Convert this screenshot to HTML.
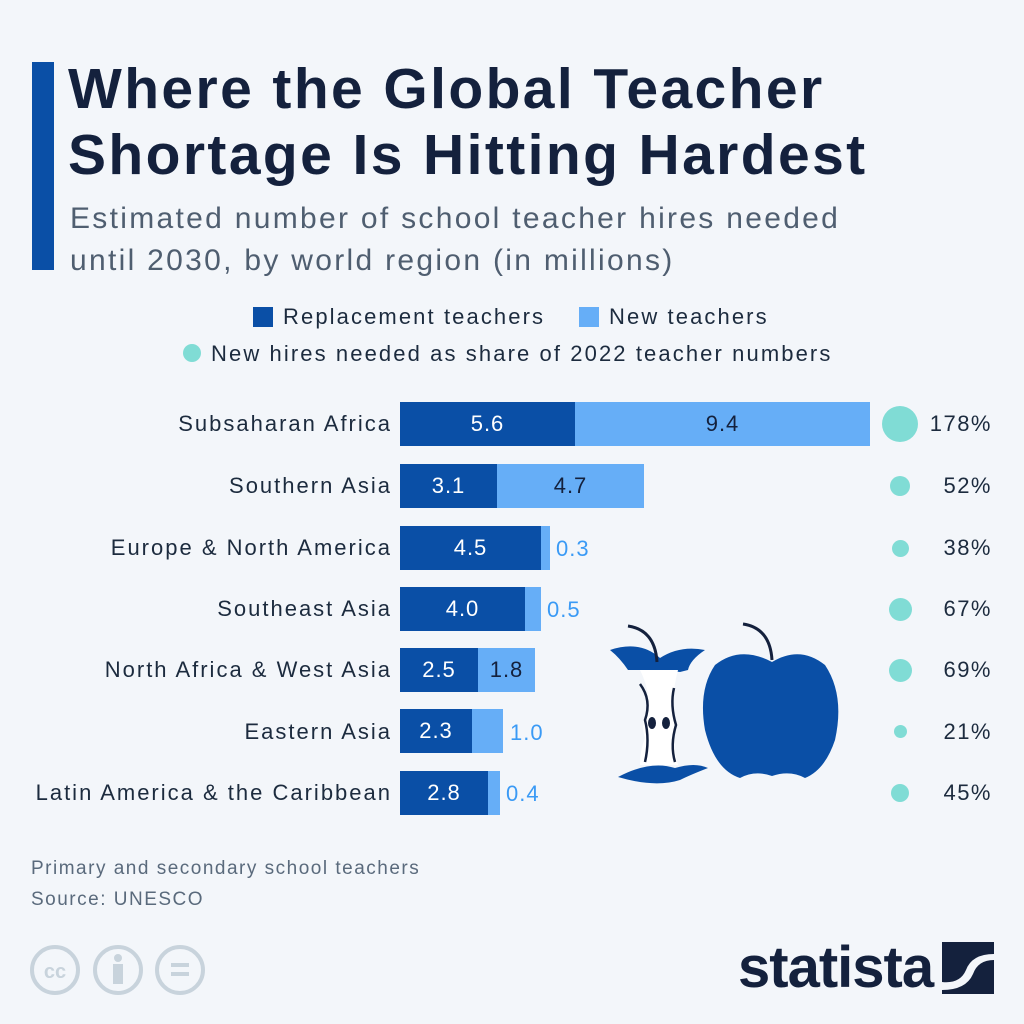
<!DOCTYPE html>
<html><head><meta charset="utf-8"><style>
body{margin:0;width:1024px;height:1024px;background:#f3f6fa;font-family:"Liberation Sans",sans-serif;position:relative;overflow:hidden;color:#1c2b3e}
.a{position:absolute}
.t{left:68px;top:56px;font-size:57px;font-weight:bold;color:#14213d;line-height:66px;letter-spacing:2.4px}
.s{left:70px;top:198px;font-size:30px;color:#4f5e70;line-height:42px;letter-spacing:2.3px}
.lab{right:632px;font-size:22px;white-space:nowrap;line-height:24px;letter-spacing:2px}
.bar{height:44px}
.v{font-size:22px;color:#fff;text-align:center;line-height:44px;letter-spacing:1px}
.pct{right:32px;font-size:22px;line-height:24px;letter-spacing:1.5px}
.c{background:#80dcd5;border-radius:50%}
.lg{font-size:22px;letter-spacing:2.1px}
.nv{font-size:22px;color:#3a9af5;letter-spacing:1px}
</style></head><body>
<div class="a" style="left:32px;top:62px;width:22px;height:208px;background:#0a4fa6"></div>
<div class="a t">Where the Global Teacher<br>Shortage Is Hitting Hardest</div>
<div class="a s">Estimated number of school teacher hires needed<br>until 2030, by world region (in millions)</div>
<div class="a" style="left:253px;top:307px;width:20px;height:20px;background:#0a4fa6"></div>
<div class="a lg" style="left:283px;top:304px">Replacement teachers</div>
<div class="a" style="left:579px;top:307px;width:20px;height:20px;background:#66aef7"></div>
<div class="a lg" style="left:609px;top:304px">New teachers</div>
<div class="a c" style="left:183px;top:344px;width:18px;height:18px"></div>
<div class="a lg" style="left:211px;top:341px">New hires needed as share of 2022 teacher numbers</div>

<div class="a lab" style="top:412px">Subsaharan Africa</div>
<div class="a bar" style="left:400px;top:402px;width:175px;background:#0a4fa6"></div>
<div class="a bar" style="left:575px;top:402px;width:295px;background:#66aef7"></div>
<div class="a v" style="left:400px;top:402px;width:175px">5.6</div>
<div class="a v" style="left:575px;top:402px;width:295px;color:#14213d">9.4</div>
<div class="a c" style="left:882px;top:406px;width:36px;height:36px"></div>
<div class="a pct" style="top:412px">178%</div>

<div class="a lab" style="top:474px">Southern Asia</div>
<div class="a bar" style="left:400px;top:464px;width:97px;background:#0a4fa6"></div>
<div class="a bar" style="left:497px;top:464px;width:147px;background:#66aef7"></div>
<div class="a v" style="left:400px;top:464px;width:97px">3.1</div>
<div class="a v" style="left:497px;top:464px;width:147px;color:#14213d">4.7</div>
<div class="a c" style="left:890px;top:476px;width:20px;height:20px"></div>
<div class="a pct" style="top:474px">52%</div>

<div class="a lab" style="top:536px">Europe &amp; North America</div>
<div class="a bar" style="left:400px;top:526px;width:141px;background:#0a4fa6"></div>
<div class="a bar" style="left:541px;top:526px;width:9px;background:#66aef7"></div>
<div class="a v" style="left:400px;top:526px;width:141px">4.5</div>
<div class="a nv" style="left:556px;top:536px">0.3</div>
<div class="a c" style="left:892px;top:540px;width:17px;height:17px"></div>
<div class="a pct" style="top:536px">38%</div>

<div class="a lab" style="top:597px">Southeast Asia</div>
<div class="a bar" style="left:400px;top:587px;width:125px;background:#0a4fa6"></div>
<div class="a bar" style="left:525px;top:587px;width:16px;background:#66aef7"></div>
<div class="a v" style="left:400px;top:587px;width:125px">4.0</div>
<div class="a nv" style="left:547px;top:597px">0.5</div>
<div class="a c" style="left:889px;top:598px;width:23px;height:23px"></div>
<div class="a pct" style="top:597px">67%</div>

<div class="a lab" style="top:658px">North Africa &amp; West Asia</div>
<div class="a bar" style="left:400px;top:648px;width:78px;background:#0a4fa6"></div>
<div class="a bar" style="left:478px;top:648px;width:57px;background:#66aef7"></div>
<div class="a v" style="left:400px;top:648px;width:78px">2.5</div>
<div class="a v" style="left:478px;top:648px;width:57px;color:#14213d">1.8</div>
<div class="a c" style="left:889px;top:659px;width:23px;height:23px"></div>
<div class="a pct" style="top:658px">69%</div>

<div class="a lab" style="top:720px">Eastern Asia</div>
<div class="a bar" style="left:400px;top:709px;width:72px;background:#0a4fa6"></div>
<div class="a bar" style="left:472px;top:709px;width:31px;background:#66aef7"></div>
<div class="a v" style="left:400px;top:709px;width:72px">2.3</div>
<div class="a nv" style="left:510px;top:720px">1.0</div>
<div class="a c" style="left:894px;top:725px;width:13px;height:13px"></div>
<div class="a pct" style="top:720px">21%</div>

<div class="a lab" style="top:781px">Latin America &amp; the Caribbean</div>
<div class="a bar" style="left:400px;top:771px;width:88px;background:#0a4fa6"></div>
<div class="a bar" style="left:488px;top:771px;width:12px;background:#66aef7"></div>
<div class="a v" style="left:400px;top:771px;width:88px">2.8</div>
<div class="a nv" style="left:506px;top:781px">0.4</div>
<div class="a c" style="left:891px;top:784px;width:18px;height:18px"></div>
<div class="a pct" style="top:781px">45%</div>

<svg class="a" style="left:600px;top:610px" width="260" height="190">
<path d="M10 40 Q40 30 60 48 Q80 35 105 40 Q90 50 88 60 L80 62 L62 60 L28 60 Q20 48 10 40Z" fill="#0a4fa6"/>
<path d="M40 60 Q50 80 48 100 Q40 115 45 128 Q40 140 40 155 L78 155 Q72 135 75 110 Q70 90 78 60Z" fill="#fff"/>
<path d="M40 74 Q52 90 45 110 Q50 130 45 152 M74 78 Q70 95 76 115 Q70 135 75 152" stroke="#14213d" stroke-width="2.5" fill="none"/>
<ellipse cx="52" cy="113" rx="4" ry="6" fill="#14213d"/><ellipse cx="66" cy="113" rx="4" ry="6" fill="#14213d"/>
<path d="M18 167 Q50 150 75 158 Q95 152 108 158 Q90 165 80 170 Q55 178 18 167Z" fill="#0a4fa6"/>
<path d="M28 16 Q55 20 57 52 M143 14 Q170 18 172 50" stroke="#14213d" stroke-width="3" fill="none"/>
<path d="M172 52 Q200 35 225 55 Q245 85 235 130 Q225 160 205 168 Q190 160 172 166 Q155 160 140 168 Q115 160 105 120 Q98 80 115 55 Q140 35 172 52Z" fill="#0a4fa6"/>
</svg>

<div class="a" style="left:31px;top:853px;font-size:19px;color:#5a6a7c;line-height:31px;letter-spacing:1.5px">Primary and secondary school teachers<br>Source: UNESCO</div>
<svg class="a" style="left:28px;top:942px" width="180" height="56">
<g stroke="#c8d3dc" stroke-width="4" fill="none"><circle cx="27" cy="28" r="23"/><circle cx="90" cy="28" r="23"/><circle cx="152" cy="28" r="23"/></g>
<text x="27" y="36" font-family="Liberation Sans" font-weight="bold" font-size="20" fill="#c8d3dc" text-anchor="middle">cc</text>
<circle cx="90" cy="16" r="4" fill="#c8d3dc"/><rect x="85" y="22" width="10" height="20" fill="#c8d3dc"/>
<rect x="143" y="21" width="18" height="4" fill="#c8d3dc"/><rect x="143" y="30" width="18" height="4" fill="#c8d3dc"/>
</svg>
<div class="a" style="left:738px;top:934px;font-size:58px;font-weight:bold;color:#14213d;letter-spacing:-1px;transform:scaleX(1.0);transform-origin:left">statista</div>
<svg class="a" style="left:942px;top:942px" width="52" height="52">
<rect width="52" height="52" fill="#14213d"/>
<path d="M0 40 Q18 42 24 28 Q30 12 52 12 L52 18 Q36 18 31 32 Q24 48 0 48Z" fill="#f3f6fa"/>
</svg>
</body></html>
